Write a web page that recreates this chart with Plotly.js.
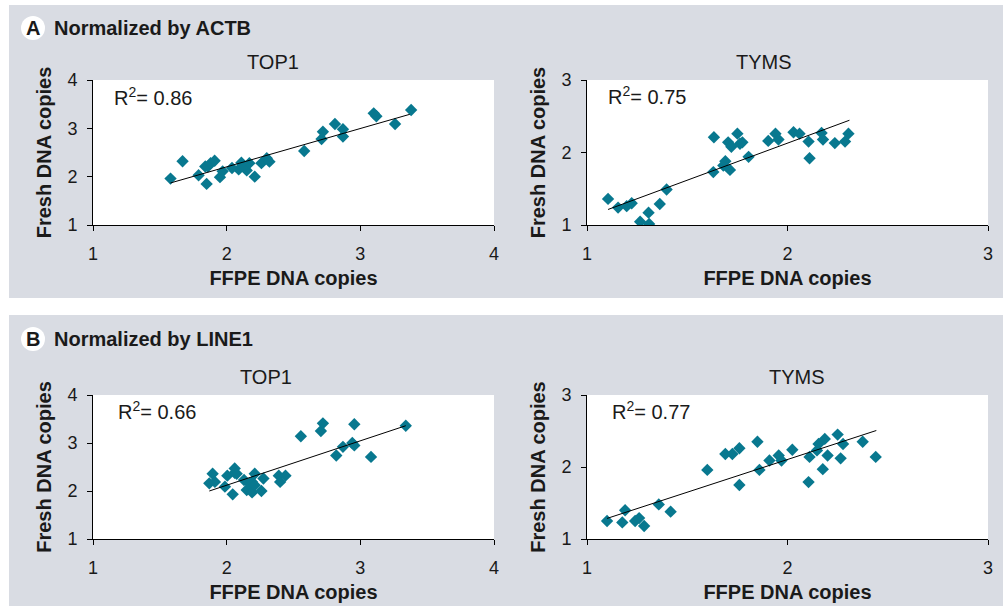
<!DOCTYPE html>
<html>
<head>
<meta charset="utf-8">
<script src="https://cdn.plot.ly/plotly-3.0.1.min.js"></script>
<style>html,body{margin:0;padding:0;background:#fff;}#chart{width:1003px;height:606px;}</style>
</head>
<body>
<div id="chart"></div>
<script>
// ---- Data ----
// Panel A: normalized by ACTB
const actbTop1X = [1.58,1.67,1.79,1.85,1.84,1.86,1.88,1.91,1.95,1.97,2.04,2.09,2.11,2.12,2.15,2.17,2.21,2.26,2.30,2.32,2.58,2.71,2.72,2.81,2.87,2.87,3.10,3.12,3.26,3.38];
const actbTop1Y = [1.96,2.32,2.03,1.85,2.21,2.21,2.28,2.33,1.99,2.11,2.18,2.15,2.29,2.25,2.13,2.28,2.00,2.28,2.38,2.31,2.53,2.78,2.93,3.09,2.98,2.83,3.31,3.25,3.09,3.38];
const actbTop1TrendX = [1.58, 3.37];
const actbTop1TrendY = [1.87, 3.29];

const actbTymsX = [1.105,1.155,1.198,1.223,1.265,1.307,1.31,1.363,1.397,1.633,1.63,1.68,1.69,1.713,1.704,1.72,1.75,1.763,1.775,1.806,1.904,1.94,1.955,2.03,2.06,2.105,2.11,2.17,2.177,2.236,2.287,2.304];
const actbTymsY = [1.36,1.24,1.26,1.30,1.045,1.17,1.014,1.29,1.49,2.21,1.73,1.82,1.88,1.76,2.14,2.08,2.26,2.12,2.14,1.94,2.16,2.26,2.18,2.28,2.26,2.15,1.92,2.27,2.18,2.13,2.15,2.26];
const actbTymsTrendX = [1.105, 2.309];
const actbTymsTrendY = [1.214, 2.445];

// Panel B: normalized by LINE1
const line1Top1X = [1.87,1.895,1.912,1.987,2.005,2.045,2.06,2.06,2.075,2.13,2.15,2.17,2.19,2.19,2.21,2.21,2.26,2.275,2.39,2.40,2.44,2.555,2.705,2.72,2.82,2.87,2.94,2.955,2.955,3.08,3.34];
const line1Top1Y = [2.16,2.36,2.19,2.09,2.32,1.93,2.38,2.47,2.36,2.23,2.02,2.16,1.97,2.19,2.36,2.12,2.00,2.26,2.32,2.19,2.32,3.14,3.25,3.41,2.74,2.92,3.00,2.95,3.39,2.71,3.36];
const line1Top1TrendX = [1.87, 3.34];
const line1Top1TrendY = [2.00, 3.36];

const line1TymsX = [1.10,1.176,1.19,1.24,1.26,1.285,1.358,1.417,1.60,1.69,1.725,1.76,1.76,1.85,1.86,1.91,1.956,1.97,2.024,2.105,2.11,2.147,2.155,2.176,2.186,2.20,2.25,2.265,2.277,2.375,2.44];
const line1TymsY = [1.25,1.23,1.40,1.25,1.29,1.18,1.48,1.38,1.96,2.18,2.18,2.26,1.75,2.35,1.96,2.09,2.16,2.09,2.24,1.79,2.14,2.23,2.32,1.97,2.39,2.16,2.45,2.12,2.32,2.35,2.14];
const line1TymsTrendX = [1.10, 2.443];
const line1TymsTrendY = [1.286, 2.507];

const panelHeadings = ['Normalized by ACTB', 'Normalized by LINE1'];
const panelLetters = ['A', 'B'];
const geneNames = ['TOP1', 'TYMS', 'TOP1', 'TYMS'];
const r2Labels = ['0.86', '0.75', '0.66', '0.77'];
const xTitle = 'FFPE DNA copies';
const yTitle = 'Fresh DNA copies';

// ---- Layout helpers ----
const W = 1003, H = 606;
const px = v => v / W;
const py = v => 1 - v / H;
const markerColor = '#08788f';
const panelGray = '#d9dce3';
const txt = '#1a1a1a';

function scatter(x, y, xa, ya) {
  return {x: x, y: y, xaxis: xa, yaxis: ya, type: 'scatter', mode: 'markers',
    marker: {symbol: 'diamond', size: 9.5, color: markerColor}, hoverinfo: 'x+y'};
}
function trend(x, y, xa, ya) {
  return {x: x, y: y, xaxis: xa, yaxis: ya, type: 'scatter', mode: 'lines',
    line: {color: '#000', width: 1}, hoverinfo: 'skip'};
}

const traces = [
  scatter(actbTop1X, actbTop1Y, 'x', 'y'), trend(actbTop1TrendX, actbTop1TrendY, 'x', 'y'),
  scatter(actbTymsX, actbTymsY, 'x2', 'y2'), trend(actbTymsTrendX, actbTymsTrendY, 'x2', 'y2'),
  scatter(line1Top1X, line1Top1Y, 'x3', 'y3'), trend(line1Top1TrendX, line1Top1TrendY, 'x3', 'y3'),
  scatter(line1TymsX, line1TymsY, 'x4', 'y4'), trend(line1TymsTrendX, line1TymsTrendY, 'x4', 'y4')
];

function xAxis(domain, range, anchor) {
  return {domain: domain, range: range, anchor: anchor, dtick: 1, tick0: 1,
    showline: true, linecolor: '#000', linewidth: 1, ticks: 'outside', ticklen: 5, tickcolor: '#000',
    showgrid: false, zeroline: false, fixedrange: true, ticklabelstandoff: 7,
    tickfont: {size: 18, color: txt},
    title: {text: '<b>' + xTitle + '</b>', font: {size: 20, color: txt}, standoff: 8}};
}
function yAxis(domain, range, anchor) {
  return {domain: domain, range: range, anchor: anchor, dtick: 1, tick0: 1,
    showline: true, linecolor: '#000', linewidth: 1, ticks: 'outside', ticklen: 5, tickcolor: '#000',
    showgrid: false, zeroline: false, fixedrange: true, ticklabelstandoff: 6,
    tickfont: {size: 18, color: txt},
    title: {text: '<b>' + yTitle + '</b>', font: {size: 20, color: txt}, standoff: 10}};
}

const leftX = [px(93), px(494)], rightX = [px(587), px(988)];
const topY = [py(225), py(80)], botY = [py(539), py(395)];

const shapes = [
  {type: 'rect', xref: 'paper', yref: 'paper', x0: px(9), x1: 1, y0: py(298), y1: py(5), fillcolor: panelGray, line: {width: 0}, layer: 'below'},
  {type: 'rect', xref: 'paper', yref: 'paper', x0: px(9), x1: 1, y0: 0, y1: py(315), fillcolor: panelGray, line: {width: 0}, layer: 'below'}
];
['x', 'x2', 'x3', 'x4'].forEach((xa, i) => {
  const ya = ['y', 'y2', 'y3', 'y4'][i];
  shapes.push({type: 'rect', xref: xa + ' domain', yref: ya + ' domain', x0: 0, x1: 1, y0: 0, y1: 1,
    fillcolor: '#ffffff', line: {width: 0}, layer: 'below'});
});
// letter circles
[28, 339].forEach(cy => {
  shapes.push({type: 'circle', xref: 'paper', yref: 'paper', x0: px(21), x1: px(45), y0: py(cy + 12), y1: py(cy - 12),
    fillcolor: '#ffffff', line: {width: 0}, layer: 'below'});
});

const annotations = [];
[28, 339].forEach((cy, i) => {
  annotations.push({xref: 'paper', yref: 'paper', x: px(33), y: py(cy), text: '<b>' + panelLetters[i] + '</b>',
    showarrow: false, xanchor: 'center', yanchor: 'middle', font: {size: 20, color: txt}});
  annotations.push({xref: 'paper', yref: 'paper', x: px(52), y: py(cy), text: '<b>' + panelHeadings[i] + '</b>',
    showarrow: false, xanchor: 'left', yanchor: 'middle', font: {size: 20, color: txt}});
});
const titlePos = [[273, 62], [764, 62], [266, 377], [797, 377]];
const r2Pos = [[112, 96], [606, 95], [116, 410], [610, 410]];
geneNames.forEach((g, i) => {
  annotations.push({xref: 'paper', yref: 'paper', x: px(titlePos[i][0]), y: py(titlePos[i][1]), text: g,
    showarrow: false, xanchor: 'center', yanchor: 'middle', font: {size: 20, color: txt}});
  annotations.push({xref: 'paper', yref: 'paper', x: px(r2Pos[i][0]), y: py(r2Pos[i][1]),
    text: 'R<sup>2</sup>= ' + r2Labels[i],
    showarrow: false, xanchor: 'left', yanchor: 'middle', font: {size: 20, color: txt}});
});

const layout = {
  width: W, height: H, margin: {l: 0, r: 0, t: 0, b: 0, pad: 0},
  paper_bgcolor: '#ffffff', plot_bgcolor: '#ffffff', showlegend: false,
  font: {family: 'Liberation Sans, Arial, sans-serif', size: 18, color: txt},
  xaxis: xAxis(leftX, [1, 4], 'y'), yaxis: yAxis(topY, [1, 4], 'x'),
  xaxis2: xAxis(rightX, [1, 3], 'y2'), yaxis2: yAxis(topY, [1, 3], 'x2'),
  xaxis3: xAxis(leftX, [1, 4], 'y3'), yaxis3: yAxis(botY, [1, 4], 'x3'),
  xaxis4: xAxis(rightX, [1, 3], 'y4'), yaxis4: yAxis(botY, [1, 3], 'x4'),
  shapes: shapes, annotations: annotations
};

Plotly.newPlot('chart', traces, layout, {displayModeBar: false, staticPlot: true});
</script>
</body>
</html>
